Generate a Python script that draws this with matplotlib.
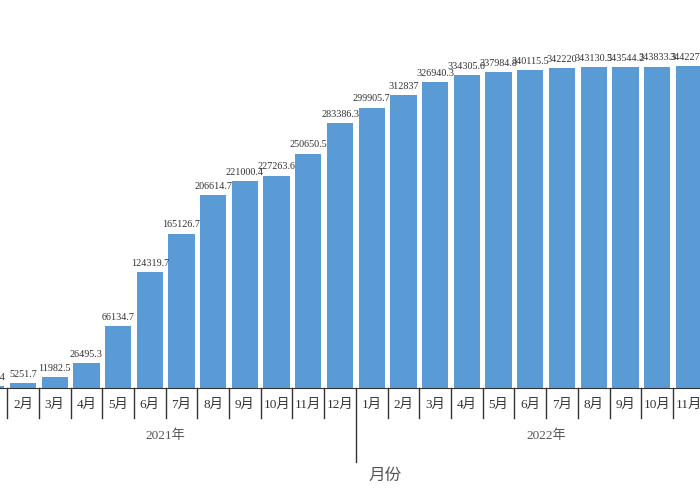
import matplotlib
matplotlib.use('Agg')
from matplotlib import pyplot as plt
from matplotlib import transforms

plt.rcParams['font.family'] = ['Liberation Serif', 'Noto Sans CJK SC', 'DejaVu Sans']

years = ['2021年', '2022年']
months = ['1月', '2月', '3月', '4月', '5月', '6月', '7月', '8月', '9月', '10月', '11月', '12月']
values_2021 = [1883.4, 5251.7, 11982.5, 26495.3, 66134.7, 124319.7, 165126.7,
               206614.7, 221000.4, 227263.6, 250650.5, 283386.3]
values_2022 = [299905.7, 312837, 326940.3, 334305.6, 337984.8, 340115.5, 342220,
               343130.5, 343544.2, 343833.3, 344227.1, 344530.6]

values = values_2021 + values_2022
labels = months + months
x = list(range(len(values)))

fig = plt.figure(figsize=(7, 5), dpi=100)
# chart is shown zoomed in: the axes run past the left and right edge of the picture
ax = fig.add_axes([-24.6 / 700, 0.224, 761 / 700, 374 / 500])

ax.bar(x, values, width=0.83, color='#5b9bd5', zorder=2)
for xi, v in zip(x, values):
    ax.annotate(str(v), (xi, v), xytext=(0, 3), textcoords='offset points',
                ha='center', va='bottom', fontsize=7.3, color='#333333')

ax.set_xlim(-0.5, len(values) - 0.5)
ax.set_ylim(0, 400000)
ax.set_yticks([])
for s in ['left', 'right', 'top']:
    ax.spines[s].set_visible(False)
ax.spines['bottom'].set_color('#333333')

ax.set_xticks(x)
ax.set_xticklabels(labels, fontsize=9.5, color='#333333')
ax.tick_params(axis='x', direction='in', length=3, color='#333333', pad=8)

trans = transforms.blended_transform_factory(ax.transData, fig.transFigure)
for i in range(len(values) - 1):
    bottom = 0.076 if i == 11 else 0.164
    ax.plot([i + 0.5, i + 0.5], [0.224, bottom], transform=trans, color='#333333',
            lw=1, clip_on=False)

for k, yr in enumerate(years):
    ax.text(k * 12 + 5.5, 0.128, yr, transform=trans, ha='center', va='center',
            fontsize=9.5, color='#555555')

fig.text(385 / 700, 1 - 475 / 500, '月份', ha='center', va='center', fontsize=12,
         color='#555555', family=['Noto Sans CJK SC', 'DejaVu Sans'])

fig.savefig('out.png', dpi=100)
